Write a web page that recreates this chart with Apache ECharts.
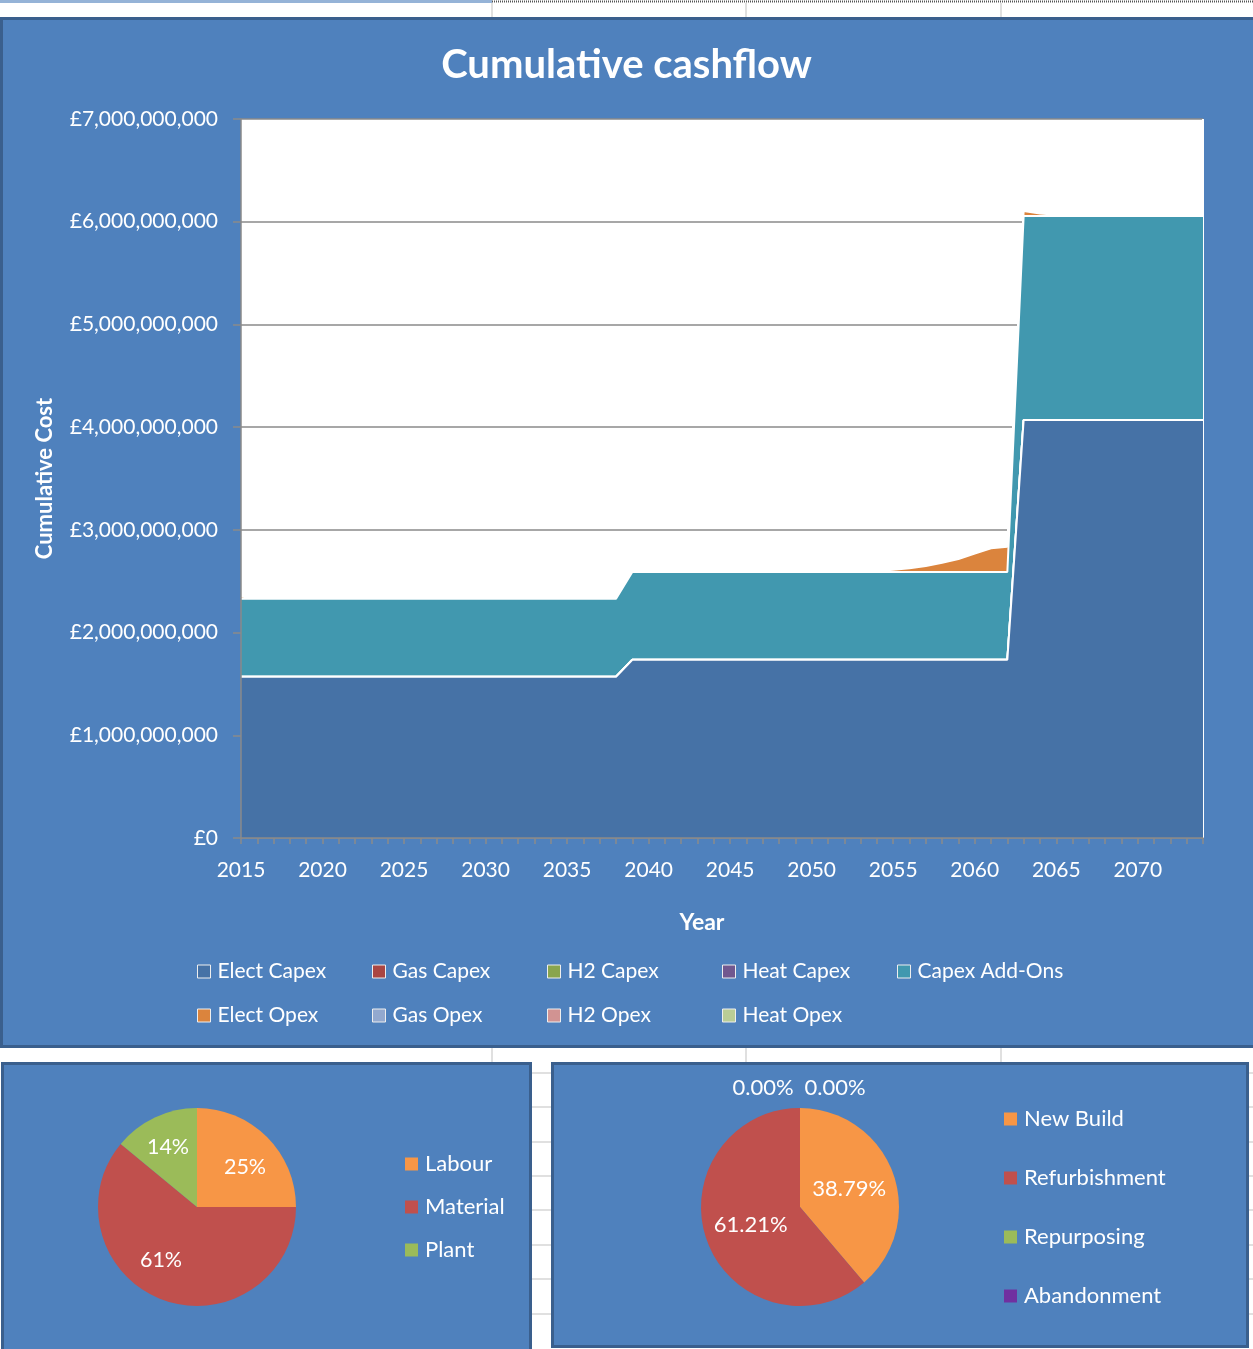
<!DOCTYPE html>
<html>
<head>
<meta charset="utf-8">
<title>Cumulative cashflow</title>
<script src="https://cdn.jsdelivr.net/npm/echarts@6/dist/echarts.min.js"></script>
<style>
  html, body { margin: 0; padding: 0; background: #ffffff; }
  #chart { width: 1253px; height: 1349px; }
</style>
</head>
<body>
<div id="chart"></div>
<script>
// ---- Data (£ millions, cumulative) ----
const years = [
  '2015','2016','2017','2018','2019','2020','2021','2022','2023','2024','2025','2026',
  '2027','2028','2029','2030','2031','2032','2033','2034','2035','2036','2037','2038',
  '2039','2040','2041','2042','2043','2044','2045','2046','2047','2048','2049','2050',
  '2051','2052','2053','2054','2055','2056','2057','2058','2059','2060','2061','2062',
  '2063','2064','2065','2066','2067','2068','2069','2070','2071','2072','2073','2074'
];

const electCapex = [
  1570,1570,1570,1570,1570,1570,1570,1570,1570,1570,1570,1570,
  1570,1570,1570,1570,1570,1570,1570,1570,1570,1570,1570,1570,
  1735,1735,1735,1735,1735,1735,1735,1735,1735,1735,1735,1735,
  1735,1735,1735,1735,1735,1735,1735,1735,1735,1735,1735,1735,
  4070,4070,4070,4070,4070,4070,4070,4070,4070,4070,4070,4070
];
const gasCapex = [
  0,0,0,0,0,0,0,0,0,0,0,0, 0,0,0,0,0,0,0,0,0,0,0,0, 0,0,0,0,0,0,0,0,0,0,0,0,
  0,0,0,0,0,0,0,0,0,0,0,0, 0,0,0,0,0,0,0,0,0,0,0,0
];
const h2Capex = [
  0,0,0,0,0,0,0,0,0,0,0,0, 0,0,0,0,0,0,0,0,0,0,0,0, 0,0,0,0,0,0,0,0,0,0,0,0,
  0,0,0,0,0,0,0,0,0,0,0,0, 0,0,0,0,0,0,0,0,0,0,0,0
];
const heatCapex = [
  0,0,0,0,0,0,0,0,0,0,0,0, 0,0,0,0,0,0,0,0,0,0,0,0, 0,0,0,0,0,0,0,0,0,0,0,0,
  0,0,0,0,0,0,0,0,0,0,0,0, 0,0,0,0,0,0,0,0,0,0,0,0
];
const capexAddOns = [
  760,760,760,760,760,760,760,760,760,760,760,760,
  760,760,760,760,760,760,760,760,760,760,760,760,
  855,855,855,855,855,855,855,855,855,855,855,855,
  855,855,855,855,855,855,855,855,855,855,855,855,
  1985,1985,1985,1985,1985,1985,1985,1985,1985,1985,1985,1985
];
const electOpex = [
  20,0,0,0,0,0,0,0,0,0,0,0,
  0,0,0,0,0,0,0,0,0,0,0,0,
  0,0,0,0,0,0,0,0,0,0,0,0,
  0,0,3,10,22,35,58,90,125,180,230,245,
  50,25,12,4,0,0,0,0,0,0,0,0
];
const gasOpex = [
  0,0,0,0,0,0,0,0,0,0,0,0, 0,0,0,0,0,0,0,0,0,0,0,0, 0,0,0,0,0,0,0,0,0,0,0,0,
  0,0,0,0,0,0,0,0,0,0,0,0, 0,0,0,0,0,0,0,0,0,0,0,0
];
const h2Opex = [
  0,0,0,0,0,0,0,0,0,0,0,0, 0,0,0,0,0,0,0,0,0,0,0,0, 0,0,0,0,0,0,0,0,0,0,0,0,
  0,0,0,0,0,0,0,0,0,0,0,0, 0,0,0,0,0,0,0,0,0,0,0,0
];
const heatOpex = [
  0,0,0,0,0,0,0,0,0,0,0,0, 0,0,0,0,0,0,0,0,0,0,0,0, 0,0,0,0,0,0,0,0,0,0,0,0,
  0,0,0,0,0,0,0,0,0,0,0,0, 0,0,0,0,0,0,0,0,0,0,0,0
];

// Y-axis ticks (£ millions)
const costTicks = [0, 1000, 2000, 3000, 4000, 5000, 6000, 7000];

// Cost breakdown pie (percent)
const breakdownNames = ['Labour', 'Material', 'Plant'];
const breakdownShares = [25, 61, 14];

// Work type pie (percent)
const workTypeNames = ['New Build', 'Refurbishment', 'Repurposing', 'Abandonment'];
const workTypeShares = [38.79, 61.21, 0, 0];

// ---- Styling ----
const FONT = 'Lato, "Open Sans", "DejaVu Sans", sans-serif';
const WHITE = '#ffffff';
const AXIS_GREY = '#8a8a8a';
const PANEL_BLUE = '#4F81BD';
const PANEL_EDGE = '#3A5F8D';

const stackDefs = [
  { name: 'Elect Capex',   data: electCapex,  color: '#4672A6' },
  { name: 'Gas Capex',     data: gasCapex,    color: '#AA4643' },
  { name: 'H2 Capex',      data: h2Capex,     color: '#89A54E' },
  { name: 'Heat Capex',    data: heatCapex,   color: '#71588F' },
  { name: 'Capex Add-Ons', data: capexAddOns, color: '#4198AF' },
  { name: 'Elect Opex',    data: electOpex,   color: '#DB843D' },
  { name: 'Gas Opex',      data: gasOpex,     color: '#93A9CF' },
  { name: 'H2 Opex',       data: h2Opex,      color: '#D19392' },
  { name: 'Heat Opex',     data: heatOpex,    color: '#B9CD96' }
];

const breakdownColors = ['#F79646', '#C0504D', '#9BBB59'];
const workTypeColors = ['#F79646', '#C0504D', '#9BBB59', '#7030A0'];

// legend slot positions for the area chart (two rows of columns)
const legendCols = [197, 372, 547, 722, 897];
const legendRows = [961, 1005];

// label anchor offsets (from pie centre) for the cost breakdown pie
const breakdownLabelOffsets = [[48, -40], [-36, 53], [-29, -60]];

const chart = echarts.init(document.getElementById('chart'), null, {
  renderer: 'canvas', width: 1253, height: 1349
});

const areaSeries = stackDefs.map((s, i) => {
  const ser = {
    name: s.name,
    type: 'line',
    stack: 'total',
    data: s.data,
    symbol: 'none',
    showSymbol: false,
    color: s.color,
    z: 20 - i,
    silent: true,
    lineStyle: { color: WHITE, width: 2 },
    areaStyle: { color: s.color, opacity: 1 },
    emphasis: { disabled: true }
  };
  if (i === 0) {
    // closing edge on the right of the stacked areas
    ser.markLine = {
      silent: true,
      symbol: 'none',
      label: { show: false },
      lineStyle: { color: WHITE, width: 2, type: 'solid' },
      data: [{ xAxis: years[years.length - 1] }]
    };
  }
  return ser;
});

const areaLegends = stackDefs.map((s, i) => ({
  left: legendCols[i < 5 ? i : i - 5],
  top: legendRows[i < 5 ? 0 : 1],
  padding: 0,
  icon: 'rect',
  itemWidth: 13,
  itemHeight: 13,
  selectedMode: false,
  data: [{ name: s.name, itemStyle: { color: s.color, borderColor: '#eeeeee', borderWidth: 1 } }],
  textStyle: { color: WHITE, fontSize: 21, fontFamily: FONT, padding: [0, 0, 0, 2] }
}));

const BD_CENTER = [197, 1207];
const WT_CENTER = [800, 1207];

// spreadsheet cell lines showing around the chart panels
const sheetLines = [];
[492, 746, 1001].forEach(x => {
  sheetLines.push({ type: 'line', z: -20, shape: { x1: x, y1: 3, x2: x, y2: 17 }, style: { stroke: '#d6d6d6', lineWidth: 1.5 } });
  sheetLines.push({ type: 'line', z: -20, shape: { x1: x, y1: 1048, x2: x, y2: 1062 }, style: { stroke: '#d6d6d6', lineWidth: 1.5 } });
});
[1073, 1107, 1142, 1176, 1210, 1245, 1279, 1314].forEach(y => {
  sheetLines.push({ type: 'line', z: -20, shape: { x1: 531, y1: y, x2: 552, y2: y }, style: { stroke: '#d6d6d6', lineWidth: 1.5 } });
  sheetLines.push({ type: 'line', z: -20, shape: { x1: 1248, y1: y, x2: 1253, y2: y }, style: { stroke: '#d6d6d6', lineWidth: 1.5 } });
});

const option = {
  animation: false,
  backgroundColor: '#ffffff',
  textStyle: { fontFamily: FONT },
  graphic: {
    elements: [
      ...sheetLines,
      { type: 'line', z: -20, shape: { x1: 0, y1: 1.5, x2: 492, y2: 1.5 }, style: { stroke: '#95B3D7', lineWidth: 3 } },
      { type: 'line', z: -20, shape: { x1: 492, y1: 1.5, x2: 1253, y2: 1.5 }, style: { stroke: '#555555', lineWidth: 2, lineDash: [1, 1] } },
      { type: 'rect', z: -10, shape: { x: 1.5, y: 18.5, width: 1262, height: 1028 }, style: { fill: PANEL_BLUE, stroke: PANEL_EDGE, lineWidth: 3 } },
      { type: 'rect', z: -10, shape: { x: 2.5, y: 1063.5, width: 528, height: 300 }, style: { fill: PANEL_BLUE, stroke: PANEL_EDGE, lineWidth: 3 } },
      { type: 'rect', z: -10, shape: { x: 552.5, y: 1063.5, width: 695, height: 283 }, style: { fill: PANEL_BLUE, stroke: PANEL_EDGE, lineWidth: 3 } }
    ]
  },
  title: {
    text: 'Cumulative cashflow',
    left: 'center',
    top: 45,
    padding: 0,
    textStyle: { color: WHITE, fontSize: 40, fontWeight: 'bold', fontFamily: FONT }
  },
  legend: [
    ...areaLegends,
    {
      orient: 'vertical', left: 405, top: 1153, padding: 0, itemGap: 21,
      icon: 'rect', itemWidth: 13, itemHeight: 13, selectedMode: false,
      data: breakdownNames,
      textStyle: { color: WHITE, fontSize: 22, fontFamily: FONT, padding: [0, 0, 0, 2] }
    },
    {
      orient: 'vertical', left: 1004, top: 1108, padding: 0, itemGap: 37,
      icon: 'rect', itemWidth: 13, itemHeight: 13, selectedMode: false,
      data: workTypeNames,
      textStyle: { color: WHITE, fontSize: 22, fontFamily: FONT, padding: [0, 0, 0, 2] }
    }
  ],
  grid: {
    left: 241, top: 119, width: 962, height: 719,
    show: true, backgroundColor: '#ffffff', borderWidth: 0
  },
  xAxis: {
    type: 'category',
    data: years,
    boundaryGap: false,
    z: 30,
    axisLine: { show: true, lineStyle: { color: AXIS_GREY, width: 1.5 } },
    axisTick: { show: true, interval: 0, length: 6, lineStyle: { color: AXIS_GREY, width: 1.5 } },
    axisLabel: { interval: 4, color: WHITE, fontSize: 21, fontFamily: FONT, margin: 22 },
    splitLine: { show: false },
    name: 'Year',
    nameLocation: 'middle',
    nameGap: 73,
    nameTextStyle: { color: WHITE, fontSize: 23, fontWeight: 'bold', fontFamily: FONT, padding: [0, 40, 0, 0] }
  },
  yAxis: [
    {
      type: 'value',
      position: 'left',
      min: costTicks[0],
      max: costTicks[costTicks.length - 1],
      interval: costTicks[1] - costTicks[0],
      z: 1,
      axisLine: { show: false },
      axisTick: { show: false },
      splitLine: { show: true, lineStyle: { color: AXIS_GREY, width: 1.5 } },
      axisLabel: {
        color: WHITE, fontSize: 21, fontFamily: FONT, margin: 23,
        formatter: v => '£' + (v * 1e6).toLocaleString('en-GB')
      },
      name: 'Cumulative Cost',
      nameLocation: 'middle',
      nameGap: 185,
      nameRotate: 90,
      nameTextStyle: { color: WHITE, fontSize: 22, fontWeight: 'bold', fontFamily: FONT }
    },
    {
      type: 'value',
      position: 'left',
      min: costTicks[0],
      max: costTicks[costTicks.length - 1],
      interval: costTicks[1] - costTicks[0],
      z: 30,
      axisLine: { show: true, lineStyle: { color: AXIS_GREY, width: 1.5 } },
      axisTick: { show: true, length: 8, lineStyle: { color: AXIS_GREY, width: 1.5 } },
      axisLabel: { show: false },
      splitLine: { show: false }
    }
  ],
  series: [
    ...areaSeries,
    {
      name: 'Cost breakdown',
      type: 'pie',
      center: BD_CENTER,
      radius: 99,
      startAngle: 90,
      clockwise: true,
      silent: true,
      data: breakdownNames.map((n, i) => ({ name: n, value: breakdownShares[i], itemStyle: { color: breakdownColors[i] } })),
      label: {
        show: true, position: 'inside', color: WHITE, fontSize: 21.5, fontFamily: FONT,
        formatter: p => Math.round(p.percent) + '%'
      },
      labelLine: { show: false },
      labelLayout: p => {
        const o = breakdownLabelOffsets[p.dataIndex];
        return { x: BD_CENTER[0] + o[0], y: BD_CENTER[1] + o[1], align: 'center', verticalAlign: 'middle' };
      },
      emphasis: { disabled: true }
    },
    {
      name: 'Work type',
      type: 'pie',
      center: WT_CENTER,
      radius: 99,
      startAngle: 90,
      clockwise: true,
      silent: true,
      data: workTypeNames.map((n, i) => ({ name: n, value: workTypeShares[i], itemStyle: { color: workTypeColors[i] } })),
      label: {
        show: true, position: 'inside', color: WHITE, fontSize: 22, fontFamily: FONT,
        formatter: p => p.percent.toFixed(2) + '%'
      },
      labelLine: { show: false },
      labelLayout: p => {
        // zero-share slices sit at twelve o'clock; their labels go above the pie, side by side
        if (p.dataIndex === 2) {
          return { x: WT_CENTER[0] - 37, y: WT_CENTER[1] - 119, align: 'center', verticalAlign: 'middle' };
        }
        if (p.dataIndex === 3) {
          return { x: WT_CENTER[0] + 35, y: WT_CENTER[1] - 119, align: 'center', verticalAlign: 'middle' };
        }
        return {};
      },
      emphasis: { disabled: true }
    }
  ]
};

chart.setOption(option);
</script>
</body>
</html>
